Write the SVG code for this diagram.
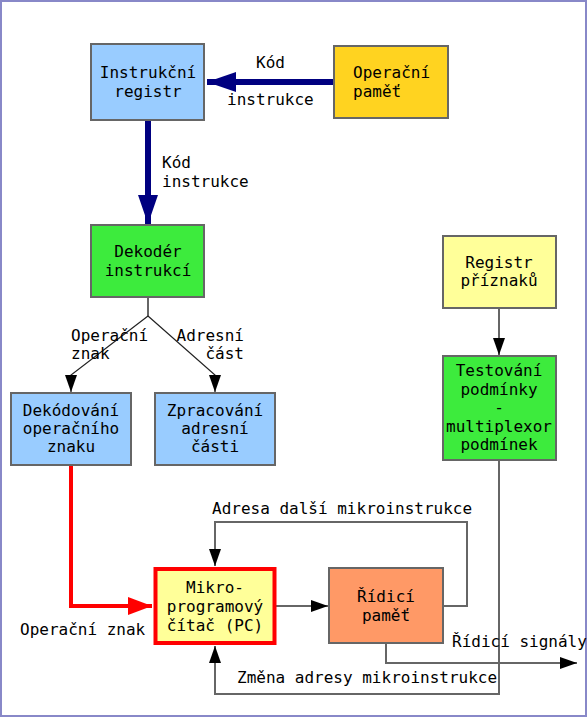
<svg xmlns="http://www.w3.org/2000/svg" width="587" height="717" viewBox="0 0 587 717">
<style>
text{font-family:"DejaVu Sans Mono","Liberation Mono",monospace;font-size:16px;fill:#000}
.c{text-anchor:middle}
.box{stroke:#666;stroke-width:2}
.thin{fill:none;stroke:#666;stroke-width:2}
.blk{fill:none;stroke:#222;stroke-width:1.2}
.navy{fill:none;stroke:#000080;stroke-width:6}
.red{fill:none;stroke:#ff0000;stroke-width:4}
</style>
<defs>
<marker id="ah" markerUnits="userSpaceOnUse" markerWidth="18" markerHeight="12" refX="17" refY="6" orient="auto"><path d="M0,0 L17,6 L0,12 Z" fill="#000"/></marker>
<marker id="an" markerUnits="userSpaceOnUse" markerWidth="30" markerHeight="20" refX="29" refY="10" orient="auto"><path d="M0,0 L29,10 L0,20 Z" fill="#000080"/></marker>
<marker id="ar" markerUnits="userSpaceOnUse" markerWidth="25" markerHeight="18" refX="24" refY="9" orient="auto"><path d="M0,0 L24,9 L0,18 Z" fill="#ff0000"/></marker>
</defs>
<rect x="0" y="0" width="587" height="717" fill="#fff"/>
<rect x="1" y="1" width="585" height="715" fill="none" stroke="#8888c8" stroke-width="2"/>
<g id="connectors">
<path class="navy" d="M334,82 L207,82" marker-end="url(#an)"/>
<path class="navy" d="M148,120 L148,224" marker-end="url(#an)"/>
<path class="thin" d="M148,297 L148,316"/>
<path class="blk" d="M148,316 L71,375 L71,392" marker-end="url(#ah)"/>
<path class="blk" d="M148,316 L215,375 L215,392" marker-end="url(#ah)"/>
<path class="thin" d="M499,308 L499,355" marker-end="url(#ah)"/>
<path class="red" d="M71,465 L71,606 L152,606" marker-end="url(#ar)"/>
<path class="thin" d="M276,606 L328,606" marker-end="url(#ah)"/>
<path class="thin" d="M443,606 L467,606 L467,522 L215,522 L215,566" marker-end="url(#ah)"/>
<path class="thin" d="M386,644 L386,663 L577,663" marker-end="url(#ah)"/>
<path class="thin" d="M499,460 L499,694 L215,694 L215,646" marker-end="url(#ah)"/>
</g>
<g id="instrukcni-registr"><rect class="box" x="91" y="44" width="113" height="76" fill="#99ccff"/><text class="c" x="148" y="78">Instrukční</text><text class="c" x="148" y="97">registr</text></g>
<g id="operacni-pamet"><rect class="box" x="334" y="46" width="114" height="72" fill="#ffd320"/><text x="353" y="78">Operační</text><text x="353" y="97">paměť</text></g>
<g id="dekoder"><rect class="box" x="91" y="225" width="113" height="72" fill="#3deb3d"/><text class="c" x="148" y="257">Dekodér</text><text class="c" x="148" y="276">instrukcí</text></g>
<g id="dekodovani"><rect class="box" x="11" y="393" width="120" height="72" fill="#99ccff"/><text class="c" x="71" y="416">Dekódování</text><text class="c" x="71" y="434">operačního</text><text class="c" x="71" y="452">znaku</text></g>
<g id="zpracovani"><rect class="box" x="155" y="393" width="120" height="72" fill="#99ccff"/><text class="c" x="215" y="416">Zpracování</text><text class="c" x="215" y="434">adresní</text><text class="c" x="215" y="452">části</text></g>
<g id="registr-priznaku"><rect class="box" x="443" y="236" width="113" height="72" fill="#ffff99"/><text class="c" x="499" y="268">Registr</text><text class="c" x="499" y="286">příznaků</text></g>
<g id="testovani"><rect class="box" x="443" y="356" width="113" height="104" fill="#3deb3d"/><text class="c" x="499" y="376">Testování</text><text class="c" x="499" y="395">podmínky</text><text class="c" x="499" y="413">-</text><text class="c" x="499" y="432">multiplexor</text><text class="c" x="499" y="450">podmínek</text></g>
<g id="mikro-pc"><rect x="155.5" y="569" width="119" height="74" fill="#ffff99" stroke="#ff0000" stroke-width="4"/><text class="c" x="215" y="593">Mikro-</text><text class="c" x="215" y="612">programový</text><text class="c" x="215" y="631">čítač (PC)</text></g>
<g id="ridici-pamet"><rect class="box" x="329" y="568" width="114" height="75" fill="#ff9966"/><text class="c" x="386" y="602">Řídicí</text><text class="c" x="386" y="621">paměť</text></g>
<g id="labels">
<text x="256" y="68">Kód</text><text x="227" y="105">instrukce</text>
<text x="162" y="168">Kód</text><text x="162" y="187">instrukce</text>
<text x="71" y="341">Operační</text><text x="71" y="359">znak</text>
<text x="244" y="341" text-anchor="end">Adresní</text><text x="244" y="359" text-anchor="end">část</text>
<text x="212" y="514">Adresa další mikroinstrukce</text>
<text x="20" y="635">Operační znak</text>
<text x="452" y="647">Řídicí signály</text>
<text x="237" y="683">Změna adresy mikroinstrukce</text>
</g>
</svg>
